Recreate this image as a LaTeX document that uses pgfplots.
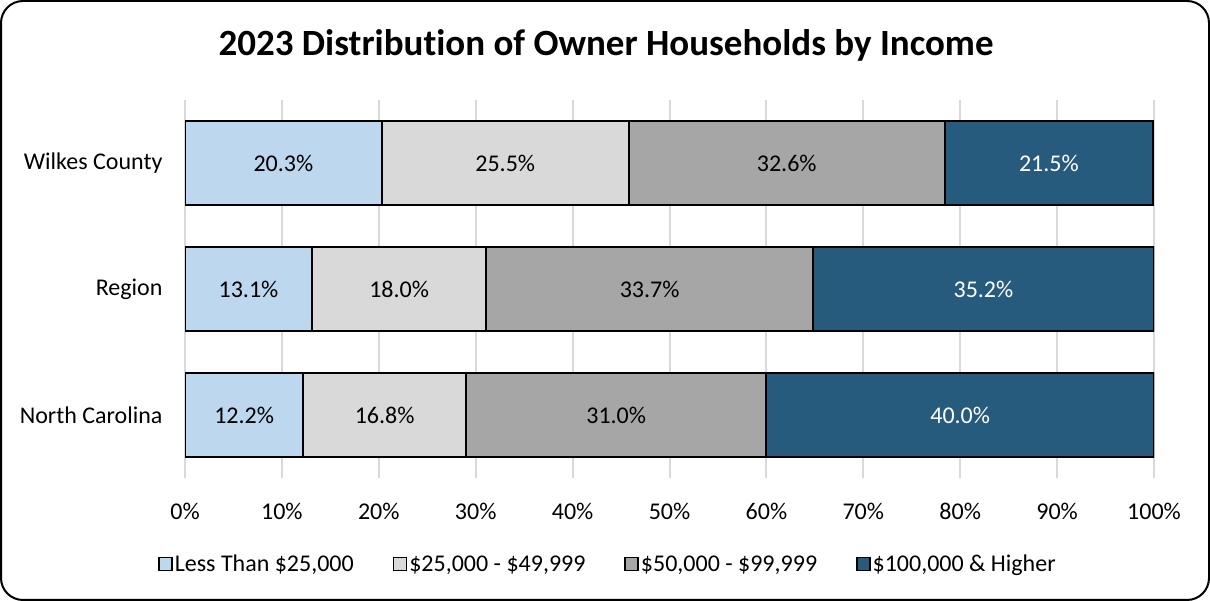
\documentclass[border=0pt]{standalone}
\usepackage{pgfplots}
\pgfplotsset{compat=1.18}
\usepackage{fontspec}
\setmainfont{Carlito}[Ligatures=NoCommon]
\definecolor{lessc}{RGB}{189,215,238}
\definecolor{midc}{RGB}{217,217,217}
\definecolor{highc}{RGB}{166,166,166}
\definecolor{topc}{RGB}{39,91,126}
\definecolor{gridc}{RGB}{217,217,217}
\pgfplotsset{
  base/.style={
    at={(185pt,123pt)}, anchor=south west,
    width=969pt, height=378pt, scale only axis,
    xmin=0, xmax=100, ymin=0.5, ymax=3.5,
    axis line style={draw=none}, major tick length=0pt,
    tick label style={font=\fontsize{24}{29}\selectfont},
  }
}
\begin{document}
\begin{tikzpicture}[x=1pt,y=1pt]
\useasboundingbox (0,0) rectangle (1210,601);
\draw[line width=2pt, rounded corners=22pt] (1,1) rectangle (1209,600);
\node[font=\fontsize{37}{44}\selectfont\bfseries] at (606,556) {2023 Distribution of Owner Households by Income};
\begin{axis}[base,
  xbar stacked, bar width=84pt,
  xtick={0,10,20,30,40,50,60,70,80,90,100},
  xticklabels={0\%,10\%,20\%,30\%,40\%,50\%,60\%,70\%,80\%,90\%,100\%},
  xticklabel style={yshift=-22pt},
  ytick={1,2,3},
  yticklabels={North Carolina,Region,Wilkes County},
  yticklabel style={xshift=-19pt},
  xmajorgrids, grid style={gridc, line width=2pt},
  legend columns=4,
  legend style={draw=none, fill=none, at={(0.4365,-0.2275)}, anchor=center,
    font=\fontsize{24}{29}\selectfont, nodes={inner sep=2pt},
    /tikz/every even column/.append style={column sep=37pt}},
  legend image code/.code={\draw[#1, line width=1.5pt] (0pt,-6.5pt) rectangle (13pt,6.5pt);},
  every axis plot/.append style={draw=black, line width=2pt},
]
\addplot[fill=lessc] coordinates {(12.2,1) (13.1,2) (20.3,3)};
\addplot[fill=midc] coordinates {(16.8,1) (18.0,2) (25.5,3)};
\addplot[fill=highc] coordinates {(31.0,1) (33.7,2) (32.6,3)};
\addplot[fill=topc] coordinates {(40.0,1) (35.2,2) (21.5,3)};
\legend{{Less Than \$25,000},{\$25,000 - \$49,999},{\$50,000 - \$99,999},{\$100,000 \& Higher}}
\end{axis}
\begin{axis}[base, hide axis,
  every node near coord/.append style={anchor=center, font=\fontsize{24}{29}\selectfont},
]
\addplot[draw=none, nodes near coords, point meta=explicit symbolic] coordinates {
  (6.1,1) [12.2\%] (20.6,1) [16.8\%] (44.5,1) [31.0\%]
  (6.55,2) [13.1\%] (22.1,2) [18.0\%] (47.95,2) [33.7\%]
  (10.15,3) [20.3\%] (33.05,3) [25.5\%] (62.1,3) [32.6\%]
};
\addplot[draw=none, nodes near coords, point meta=explicit symbolic,
  every node near coord/.append style={text=white}] coordinates {
  (80.0,1) [40.0\%] (82.4,2) [35.2\%] (89.15,3) [21.5\%]
};
\end{axis}
\end{tikzpicture}
\end{document}
